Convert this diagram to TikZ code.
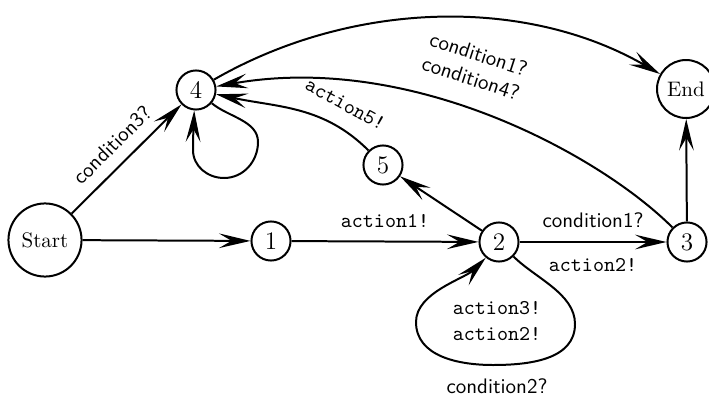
\documentclass[tikz,border=0pt]{standalone}
\usetikzlibrary{arrows.meta}
\begin{document}
\begin{tikzpicture}[x=0.476pt,y=0.476pt,line width=0.95pt,
  st/.style={circle,draw,minimum size=18.6pt,inner sep=0pt},
  dg/.style={st,font=\large},
  arr/.style={-{Stealth[length=15pt,width=7pt,inset=6pt]}},
  tl/.style={font=\ttfamily},
  sl/.style={font=\sffamily}]
\useasboundingbox (0,0) rectangle (709,-396);
\node[st,minimum size=34.8pt] (start) at (45,-240) {Start};
\node[dg] (n1) at (271,-241) {1};
\node[dg] (n2) at (499,-242) {2};
\node[dg] (n3) at (687,-242) {3};
\node[dg] (n4) at (196,-90) {4};
\node[dg] (n5) at (383,-165) {5};
\node[st,minimum size=27.6pt] (end) at (686,-89) {End};
\coordinate (r4) at (258,-142);
\coordinate (b4) at (224,-178);
\coordinate (l4) at (193,-150);
\coordinate (r2) at (575,-324);
\coordinate (b2) at (493,-365);
\coordinate (l2) at (416,-322);
\draw[arr] (start) -- (n1);
\draw[arr] (start) -- node[sl,sloped,above=2pt]{condition3?} (n4);
\draw[arr] (n1) -- node[tl,above=3pt]{action1!} (n2);
\draw[arr] (n2) -- node[sl,above=3pt]{condition1?} node[tl,below=4pt]{action2!} (n3);
\draw[arr] (n2) -- (n5);
\draw[arr] (n5) to[out=135,in=-12] node[tl,sloped,above=4pt,pos=0.25]{action5!} (n4);
\draw[arr] (n3) to[out=135,in=10,out distance=48pt,in distance=95pt]
  node[sl,sloped,above=7pt,pos=0.56,align=center]{condition1?\\condition4?} (n4);
\draw[arr] (n4) to[out=30,in=150,looseness=0.9] (end);
\draw[arr] (n3) -- (end);
\draw[arr] (n4.-40) to[out=-40,in=90,looseness=0.9] (r4) to[out=-90,in=0] (b4)
  to[out=180,in=-90] (l4) to[out=90,in=-92] (n4.-95);
\draw[arr] (n2.-45) to[out=-45,in=90,looseness=0.85] (r2) to[out=-90,in=0] (b2)
  to[out=180,in=-90] (l2) to[out=90,in=-135,looseness=0.8] (n2.-130);
\node[tl,align=center] (lp2) at (497,-321) {action3!\\action2!};
\node[sl] (c2) at (497,-386) {condition2?};
\end{tikzpicture}
\end{document}
